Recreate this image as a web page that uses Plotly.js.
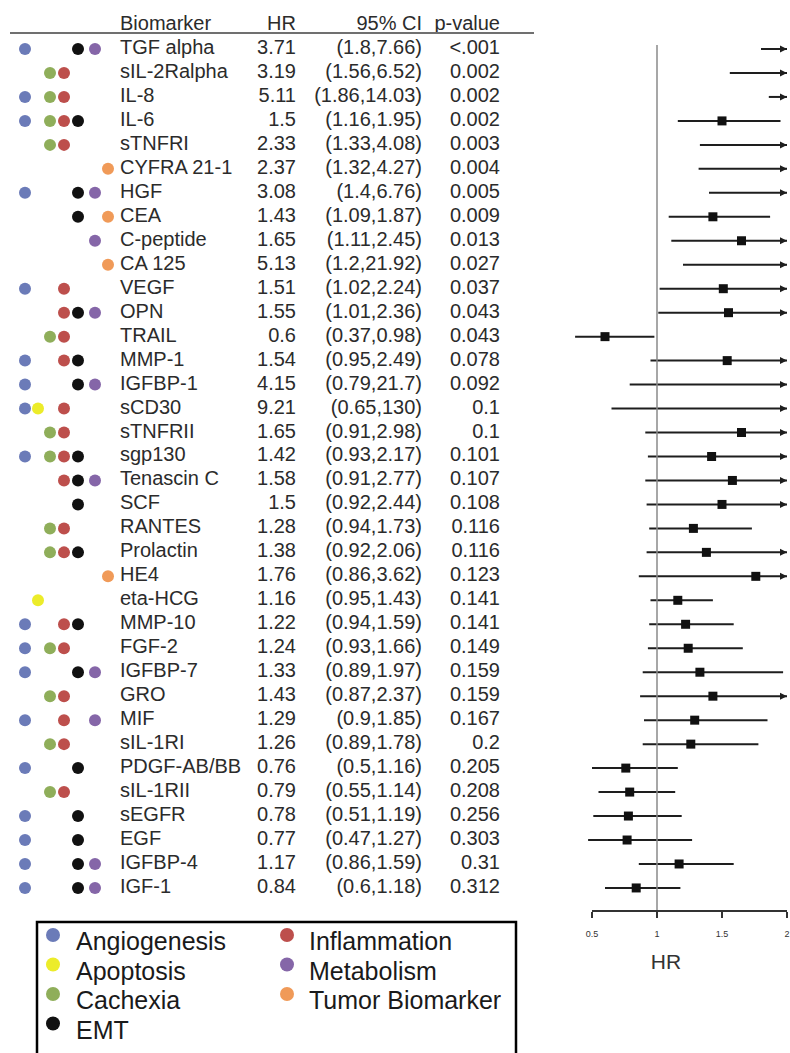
<!DOCTYPE html>
<html>
<head>
<meta charset="utf-8">
<script src="https://cdn.plot.ly/plotly-3.0.1.min.js"></script>
<style>
html,body{margin:0;padding:0;background:#ffffff;}
#chart{width:790px;height:1053px;}
</style>
</head>
<body>
<div id="chart"></div>
<script>
// ---------------- DATA ----------------
const biomarkers = ['TGF alpha','sIL-2Ralpha','IL-8','IL-6','sTNFRI','CYFRA 21-1','HGF','CEA','C-peptide','CA 125',
  'VEGF','OPN','TRAIL','MMP-1','IGFBP-1','sCD30','sTNFRII','sgp130','Tenascin C','SCF',
  'RANTES','Prolactin','HE4','eta-HCG','MMP-10','FGF-2','IGFBP-7','GRO','MIF','sIL-1RI',
  'PDGF-AB/BB','sIL-1RII','sEGFR','EGF','IGFBP-4','IGF-1'];
const hr = [3.71,3.19,5.11,1.5,2.33,2.37,3.08,1.43,1.65,5.13,
  1.51,1.55,0.6,1.54,4.15,9.21,1.65,1.42,1.58,1.5,
  1.28,1.38,1.76,1.16,1.22,1.24,1.33,1.43,1.29,1.26,
  0.76,0.79,0.78,0.77,1.17,0.84];
const ciLow = [1.8,1.56,1.86,1.16,1.33,1.32,1.4,1.09,1.11,1.2,
  1.02,1.01,0.37,0.95,0.79,0.65,0.91,0.93,0.91,0.92,
  0.94,0.92,0.86,0.95,0.94,0.93,0.89,0.87,0.9,0.89,
  0.5,0.55,0.51,0.47,0.86,0.6];
const ciHigh = [7.66,6.52,14.03,1.95,4.08,4.27,6.76,1.87,2.45,21.92,
  2.24,2.36,0.98,2.49,21.7,130,2.98,2.17,2.77,2.44,
  1.73,2.06,3.62,1.43,1.59,1.66,1.97,2.37,1.85,1.78,
  1.16,1.14,1.19,1.27,1.59,1.18];
const pValues = ['<.001','0.002','0.002','0.002','0.003','0.004','0.005','0.009','0.013','0.027',
  '0.037','0.043','0.043','0.078','0.092','0.1','0.1','0.101','0.107','0.108',
  '0.116','0.116','0.123','0.141','0.141','0.149','0.159','0.159','0.167','0.2',
  '0.205','0.208','0.256','0.303','0.31','0.312'];
const groups = [
  ['Angiogenesis','EMT','Metabolism'],
  ['Cachexia','Inflammation'],
  ['Angiogenesis','Cachexia','Inflammation'],
  ['Angiogenesis','Cachexia','Inflammation','EMT'],
  ['Cachexia','Inflammation'],
  ['Tumor Biomarker'],
  ['Angiogenesis','EMT','Metabolism'],
  ['EMT','Tumor Biomarker'],
  ['Metabolism'],
  ['Tumor Biomarker'],
  ['Angiogenesis','Inflammation'],
  ['Inflammation','EMT','Metabolism'],
  ['Cachexia','Inflammation'],
  ['Angiogenesis','Inflammation','EMT'],
  ['Angiogenesis','EMT','Metabolism'],
  ['Angiogenesis','Apoptosis','Inflammation'],
  ['Cachexia','Inflammation'],
  ['Angiogenesis','Cachexia','Inflammation','EMT'],
  ['Inflammation','EMT','Metabolism'],
  ['EMT'],
  ['Cachexia','Inflammation'],
  ['Cachexia','Inflammation','EMT'],
  ['Tumor Biomarker'],
  ['Apoptosis'],
  ['Angiogenesis','Inflammation','EMT'],
  ['Angiogenesis','Cachexia','Inflammation'],
  ['Angiogenesis','EMT','Metabolism'],
  ['Cachexia','Inflammation'],
  ['Angiogenesis','Inflammation','Metabolism'],
  ['Cachexia','Inflammation'],
  ['Angiogenesis','EMT'],
  ['Cachexia','Inflammation'],
  ['Angiogenesis','EMT'],
  ['Angiogenesis','EMT'],
  ['Angiogenesis','EMT','Metabolism'],
  ['Angiogenesis','EMT','Metabolism']
];
const categories = ['Angiogenesis','Apoptosis','Cachexia','EMT','Inflammation','Metabolism','Tumor Biomarker'];
const headers = ['Biomarker','HR','95% CI','p-value'];
const xTickVals = [0.5,1,1.5,2];
const xTickLabels = ['0.5','1','1.5','2'];
const xTitle = 'HR';
const refValue = 1;
const xMax = 2;

// ---------------- STYLE / LAYOUT ----------------
const W = 790, H = 1053;
const FONT = 'Liberation Sans, Arial, Helvetica, sans-serif';
const TXT = '#2b2b2b';
const catColor = {
  'Angiogenesis':'#6b7bb8','Apoptosis':'#ecec2a','Cachexia':'#8fae5a','EMT':'#111111',
  'Inflammation':'#bd4f4c','Metabolism':'#8566a8','Tumor Biomarker':'#f09a58'
};
const catColumnX = {
  'Angiogenesis':25,'Apoptosis':38,'Cachexia':50,'Inflammation':64,'EMT':78,'Metabolism':95,'Tumor Biomarker':108
};
const rowTopPx = 49, rowStep = 23.97, axisPx = 911;
const headerRow = -1;
const px2v = p => 0.5 + (p - 592) / 130;     // forest x scale (0.5 at 592px, 2 at 787px)
const forestDomainPx = [542, 790];
const tableRangePx = 540;
const colX = {name:120, hr:296, ci:422, p:500};
const tableFontSize = 20;

const rows = biomarkers.map((_, i) => i);
const traces = [];

// category dots in table
categories.forEach(cat => {
  const ys = rows.filter(i => groups[i].indexOf(cat) !== -1);
  traces.push({
    type:'scatter', mode:'markers', xaxis:'x2', yaxis:'y',
    x: ys.map(() => catColumnX[cat]), y: ys,
    marker:{size:12, color:catColor[cat], line:{width:0}},
    name:cat, showlegend:false, hoverinfo:'skip'
  });
});

// table text columns
const textCol = (xs, ys, texts, pos) => ({
  type:'scatter', mode:'text', xaxis:'x2', yaxis:'y',
  x: xs, y: ys, text: texts, textposition: pos,
  textfont:{family:FONT, size:tableFontSize, color:TXT}, showlegend:false, hoverinfo:'skip'
});
traces.push(textCol(rows.map(() => colX.name), rows, biomarkers, 'middle right'));
traces.push(textCol(rows.map(() => colX.hr), rows, hr.map(v => String(v)), 'middle left'));
traces.push(textCol(rows.map(() => colX.ci), rows, rows.map(i => '(' + ciLow[i] + ',' + ciHigh[i] + ')'), 'middle left'));
traces.push(textCol(rows.map(() => colX.p), rows, pValues, 'middle left'));
// headers
traces.push(textCol([colX.name], [headerRow], [headers[0]], 'middle right'));
traces.push(textCol([colX.hr, colX.ci, colX.p], [headerRow, headerRow, headerRow], headers.slice(1), 'middle left'));

// forest whiskers
const wx = [], wy = [];
rows.forEach(i => { wx.push(ciLow[i], Math.min(ciHigh[i], xMax), null); wy.push(i, i, null); });
traces.push({type:'scatter', mode:'lines', x:wx, y:wy, xaxis:'x', yaxis:'y',
  line:{color:'#1e1e1e', width:2}, showlegend:false, hoverinfo:'skip', connectgaps:false});
// arrows for CI beyond the axis
const arrowRows = rows.filter(i => ciHigh[i] > xMax);
traces.push({type:'scatter', mode:'markers', x:arrowRows.map(() => xMax), y:arrowRows, xaxis:'x', yaxis:'y',
  marker:{symbol:'arrow-right', size:7, color:'#1e1e1e', line:{width:0}}, cliponaxis:false,
  showlegend:false, hoverinfo:'skip'});
// point estimates
const ptRows = rows.filter(i => hr[i] <= xMax);
traces.push({type:'scatter', mode:'markers', x:ptRows.map(i => hr[i]), y:ptRows, xaxis:'x', yaxis:'y',
  marker:{symbol:'square', size:9, color:'#111111', line:{width:0}},
  showlegend:false, hoverinfo:'skip'});

// manual legend (pixel axes x3/y3)
const legX = [53, 287], legTextX = [76, 309], legTextY = [944, 973.5, 1003, 1032.5];
const legCol = categories.map((c, k) => k < 4 ? 0 : 1);
const legRow = categories.map((c, k) => k % 4);
traces.push({type:'scatter', mode:'markers', xaxis:'x3', yaxis:'y3',
  x: categories.map((c, k) => legX[legCol[k]]),
  y: categories.map((c, k) => legTextY[legRow[k]] - 9),
  marker:{size:14, color:categories.map(c => catColor[c]), line:{width:0}},
  showlegend:false, hoverinfo:'skip'});
traces.push({type:'scatter', mode:'text', xaxis:'x3', yaxis:'y3',
  x: categories.map((c, k) => legTextX[legCol[k]]),
  y: categories.map((c, k) => legTextY[legRow[k]]),
  text: categories, textposition:'middle right',
  textfont:{family:FONT, size:25, color:'#1a1a1a'}, showlegend:false, hoverinfo:'skip'});

const yDomBottom = (H - axisPx) / H;
const layout = {
  width:W, height:H, margin:{l:0, r:0, t:0, b:0},
  paper_bgcolor:'#ffffff', plot_bgcolor:'rgba(0,0,0,0)',
  showlegend:false, hovermode:false,
  font:{family:FONT, color:TXT},
  xaxis:{domain:[forestDomainPx[0]/W, forestDomainPx[1]/W], range:[px2v(forestDomainPx[0]), px2v(forestDomainPx[1])],
    anchor:'y', showgrid:false, zeroline:false, showline:false,
    tickmode:'array', tickvals:xTickVals, ticktext:xTickLabels,
    ticks:'outside', ticklen:6, tickwidth:2, tickcolor:'#333',
    tickfont:{family:FONT, size:9, color:'#333'}, ticklabelstandoff:8,
    title:{text:xTitle, font:{family:FONT, size:21, color:'#333'}, standoff:16}},
  yaxis:{domain:[yDomBottom, 1], range:[(axisPx - rowTopPx)/rowStep, -rowTopPx/rowStep],
    anchor:'x', visible:false, showgrid:false, zeroline:false},
  xaxis2:{domain:[0, tableRangePx/W], range:[0, tableRangePx], anchor:'y', visible:false, showgrid:false, zeroline:false},
  xaxis3:{domain:[0,1], range:[0, W], anchor:'y3', visible:false, showgrid:false, zeroline:false},
  yaxis3:{domain:[0,1], range:[H, 0], anchor:'x3', visible:false, showgrid:false, zeroline:false},
  shapes:[
    // header underline
    {type:'line', xref:'paper', yref:'paper', x0:10/W, x1:534/W, y0:(H-33)/H, y1:(H-33)/H,
     line:{color:'#707070', width:2}},
    // reference line at HR = 1
    {type:'line', xref:'x', yref:'paper', x0:refValue, x1:refValue, y0:yDomBottom, y1:(H-45)/H,
     line:{color:'#8a8a8a', width:1.5}},
    // axis baseline
    {type:'line', xref:'x', yref:'paper', x0:xTickVals[0], x1:xTickVals[xTickVals.length-1], y0:yDomBottom, y1:yDomBottom,
     line:{color:'#333', width:2}},
    // legend box
    {type:'rect', xref:'paper', yref:'paper', x0:37/W, x1:516/W, y0:(H-922)/H, y1:(H-1075)/H,
     line:{color:'#000', width:2.5}, fillcolor:'rgba(0,0,0,0)'}
  ]
};

Plotly.newPlot('chart', traces, layout, {displayModeBar:false, responsive:false});
</script>
</body>
</html>
